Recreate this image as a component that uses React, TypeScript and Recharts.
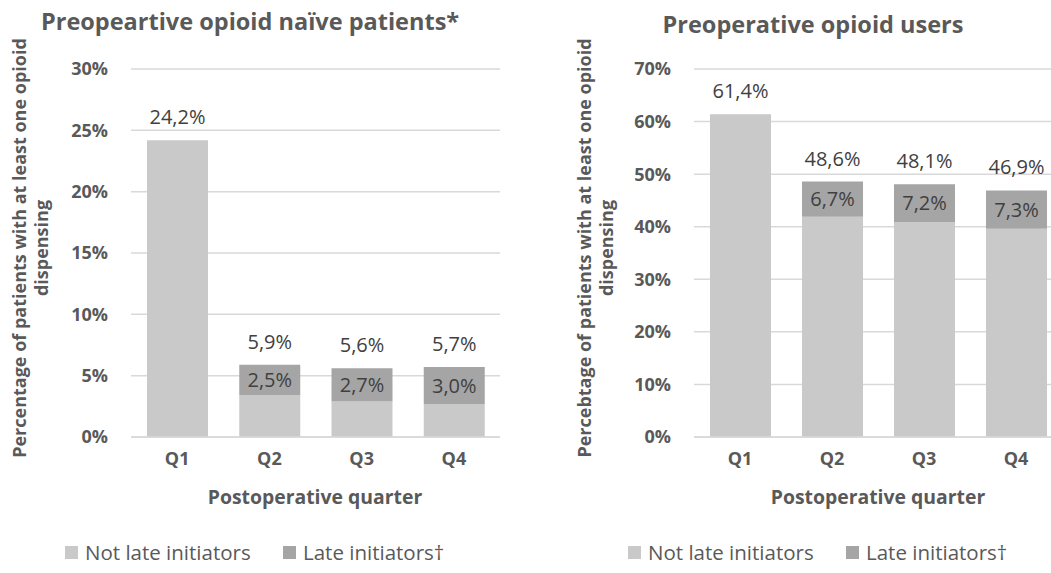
import React from "react";
import { BarChart, Bar, XAxis, YAxis, CartesianGrid, LabelList } from "recharts";

const quarters = ["Q1", "Q2", "Q3", "Q4"];
const naiveNotLate = [24.2, 3.4, 2.9, 2.7];
const naiveLate = [0, 2.5, 2.7, 3.0];
const naiveTotalLabels = ["24,2%", "5,9%", "5,6%", "5,7%"];
const naiveLateLabels = ["", "2,5%", "2,7%", "3,0%"];
const naiveTicks = [0, 5, 10, 15, 20, 25, 30];

const usersNotLate = [61.4, 41.9, 40.9, 39.6];
const usersLate = [0, 6.7, 7.2, 7.3];
const usersTotalLabels = ["61,4%", "48,6%", "48,1%", "46,9%"];
const usersLateLabels = ["", "6,7%", "7,2%", "7,3%"];
const usersTicks = [0, 10, 20, 30, 40, 50, 60, 70];

const FONT = "'Open Sans', sans-serif";
const LIGHT = "#c9c9c9";
const DARK = "#a5a5a5";
const GRID = "#d9d9d9";
const AXIS_TEXT = "#595959";
const LABEL_TEXT = "#404040";

function build(notLate: number[], late: number[], totals: string[], lates: string[]) {
  return quarters.map((q, i) => ({
    q,
    notLate: notLate[i],
    late: late[i],
    totalLabel: totals[i],
    lateLabel: lates[i],
  }));
}

const naiveData = build(naiveNotLate, naiveLate, naiveTotalLabels, naiveLateLabels);
const usersData = build(usersNotLate, usersLate, usersTotalLabels, usersLateLabels);

// Total label drawn from the base (not-late) bar; the stacked top is derived
// from the same bar scale (pixels per unit = height / notLate).
function makeTopLabel(data: any[]) {
  return (props: any) => {
    const { x, y, width, height, index } = props;
    const d = data[index];
    if (!d) return null;
    const perUnit = d.notLate ? height / d.notLate : 0;
    const top = y - d.late * perUnit;
    return (
      <text x={x + width / 2} y={top - 16} textAnchor="middle" fontFamily={FONT} fontSize={20} fill={LABEL_TEXT}>
        {d.totalLabel}
      </text>
    );
  };
}

const MidLabel = (props: any) => {
  const { x, y, width, height, value } = props;
  if (!value) return null;
  return (
    <text
      x={x + width / 2}
      y={y + height / 2}
      dy="0.36em"
      textAnchor="middle"
      fontFamily={FONT}
      fontSize={20}
      fill={LABEL_TEXT}
    >
      {value}
    </text>
  );
};

function YTitle(line1x: number, line2x: number, title: string) {
  return (props: any) => {
    const cy = 248;
    return (
      <g>
        <text
          x={line1x}
          y={cy}
          transform={`rotate(-90 ${line1x} ${cy})`}
          textAnchor="middle"
          dy="0.35em"
          fontFamily={FONT}
          fontWeight={700}
          fontSize={18}
          fill={AXIS_TEXT}
        >
          {title}
        </text>
        <text
          x={line2x}
          y={cy}
          transform={`rotate(-90 ${line2x} ${cy})`}
          textAnchor="middle"
          dy="0.35em"
          fontFamily={FONT}
          fontWeight={700}
          fontSize={18}
          fill={AXIS_TEXT}
        >
          dispensing
        </text>
      </g>
    );
  };
}

const tickStyle = { fontFamily: FONT, fontWeight: 700, fontSize: 18, fill: AXIS_TEXT };

function Panel(props: {
  data: any[];
  ticks: number[];
  max: number;
  width: number;
  yWidth: number;
  right: number;
  yTitle: string;
  l1: number;
  l2: number;
}) {
  const { data, ticks, max, width, yWidth, right, yTitle, l1, l2 } = props;
  return (
    <BarChart
      width={width}
      height={573}
      data={data}
      margin={{ top: 69, right, bottom: 106, left: 0 }}
      barSize={61}
    >
      <CartesianGrid vertical={false} stroke={GRID} strokeWidth={1.5} />
      <XAxis
        dataKey="q"
        axisLine={{ stroke: GRID, strokeWidth: 1.5 }}
        tickLine={false}
        tickMargin={9}
        height={30}
        tick={tickStyle}
      />
      <YAxis
        domain={[0, max]}
        ticks={ticks}
        interval={0}
        width={yWidth}
        axisLine={false}
        tickLine={false}
        tickSize={0}
        tickMargin={23}
        tickFormatter={(v: number) => `${v}%`}
        tick={tickStyle}
        label={{ content: YTitle(l1, l2, yTitle) }}
      />
      <Bar dataKey="notLate" stackId="a" fill={LIGHT} isAnimationActive={false}>
        <LabelList dataKey="totalLabel" content={makeTopLabel(data)} />
      </Bar>
      <Bar dataKey="late" stackId="a" fill={DARK} isAnimationActive={false}>
        <LabelList dataKey="lateLabel" content={MidLabel} />
      </Bar>
    </BarChart>
  );
}

const abs = (left: number, top: number): React.CSSProperties => ({
  position: "absolute",
  left,
  top,
  whiteSpace: "nowrap",
  fontFamily: FONT,
});

function LegendItem({ left, top, color, text }: { left: number; top: number; color: string; text: string }) {
  return (
    <div style={{ ...abs(left, top), display: "flex", alignItems: "center", fontSize: 20.5, color: AXIS_TEXT, lineHeight: "24px" }}>
      <span style={{ display: "inline-block", width: 13, height: 13, background: color, marginRight: 7 }} />
      {text}
    </div>
  );
}

export default function App() {
  return (
    <div
      style={{
        position: "fixed",
        left: 0,
        top: 0,
        width: 1051,
        height: 573,
        overflow: "hidden",
        background: "#ffffff",
      }}
    >
      <div style={abs(0, 0)}>
        <Panel
          data={naiveData}
          ticks={naiveTicks}
          max={30}
          width={520}
          yWidth={131}
          right={20}
          yTitle="Percentage of patients with at least one opioid"
          l1={20}
          l2={42}
        />
      </div>
      <div style={abs(525, 0)}>
        <Panel
          data={usersData}
          ticks={usersTicks}
          max={70}
          width={545}
          yWidth={169}
          right={8}
          yTitle="Percebtage of patients with at least one opioid"
          l1={60}
          l2={82}
        />
      </div>

      <div style={{ ...abs(41, 6), fontSize: 23.5, fontWeight: 700, color: AXIS_TEXT, lineHeight: "30px" }}>
        Preopeartive opioid naïve patients*
      </div>
      <div
        style={{
          ...abs(613, 9),
          width: 400,
          textAlign: "center",
          fontSize: 23.5,
          fontWeight: 700,
          color: AXIS_TEXT,
          lineHeight: "30px",
        }}
      >
        Preoperative opioid users
      </div>

      <div style={{ ...abs(165, 485), width: 300, textAlign: "center", fontSize: 19.4, fontWeight: 700, color: AXIS_TEXT, lineHeight: "24px" }}>
        Postoperative quarter
      </div>
      <div style={{ ...abs(728, 485), width: 300, textAlign: "center", fontSize: 19.4, fontWeight: 700, color: AXIS_TEXT, lineHeight: "24px" }}>
        Postoperative quarter
      </div>

      <LegendItem left={65} top={540} color={LIGHT} text="Not late initiators" />
      <LegendItem left={283} top={540} color={DARK} text="Late initiators†" />
      <LegendItem left={628} top={540} color={LIGHT} text="Not late initiators" />
      <LegendItem left={846} top={540} color={DARK} text="Late initiators†" />
    </div>
  );
}
